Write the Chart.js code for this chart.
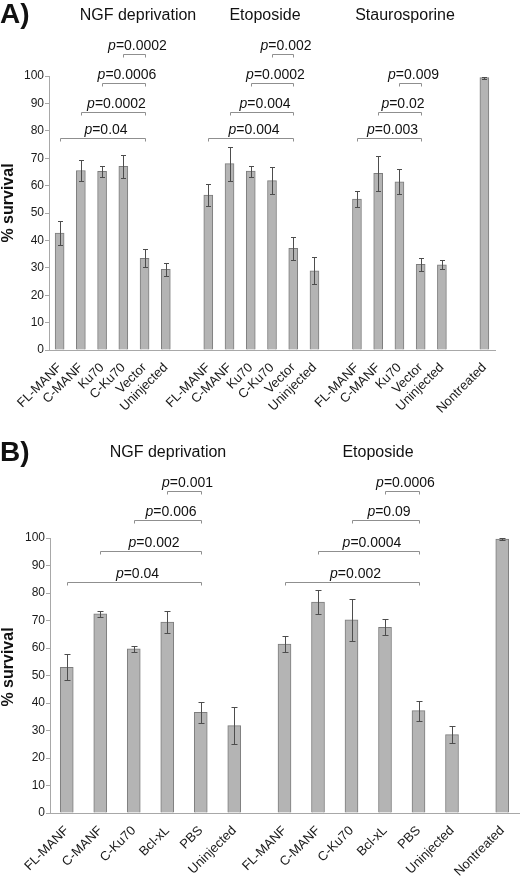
<!DOCTYPE html>
<html>
<head>
<meta charset="utf-8">
<script src="https://cdn.jsdelivr.net/npm/chart.js@4.4.0/dist/chart.umd.min.js"></script>
<style>
  html, body { margin: 0; padding: 0; background: #fff; }
  .panel { position: absolute; left: 0; width: 520px; }
  #panelA { top: 0; height: 430px; }
  #panelB { top: 430px; height: 454px; }
</style>
</head>
<body>
<div class="panel" id="panelA"><canvas id="chartA" width="520" height="430"></canvas></div>
<div class="panel" id="panelB"><canvas id="chartB" width="520" height="454"></canvas></div>
<script>
// ---- panel A data ----
const labelsA = ['FL-MANF', 'C-MANF', 'Ku70', 'C-Ku70', 'Vector', 'Uninjected', '',
  'FL-MANF', 'C-MANF', 'Ku70', 'C-Ku70', 'Vector', 'Uninjected', '',
  'FL-MANF', 'C-MANF', 'Ku70', 'Vector', 'Uninjected', '', 'Nontreated'];
const survivalA = [42.7, 65.5, 65.2, 67.0, 33.5, 29.4, null,
  56.5, 68.0, 65.3, 61.8, 37.1, 28.9, null,
  55.1, 64.5, 61.4, 31.3, 31.1, null, 99.4];
const errorA = [4.3, 4.0, 2.0, 4.2, 3.2, 2.5, null,
  4.0, 6.2, 2.0, 5.0, 4.3, 4.9, null,
  2.9, 6.3, 4.5, 2.4, 1.7, null, 0.4];
const groupsA = ['NGF deprivation', 'Etoposide', 'Staurosporine'];
const pFromA = [0, 1, 2, 3, 7, 8, 9, 10, 14, 15, 16];
const pToA = [4, 4, 4, 4, 11, 11, 11, 11, 17, 17, 17];
const pLevelA = [77.5, 87, 97.5, 108, 77.5, 87, 97.5, 108, 77.5, 87, 97.5];
const pValueA = ['0.04', '0.0002', '0.0006', '0.0002', '0.004', '0.004', '0.0002', '0.002', '0.003', '0.02', '0.009'];

// ---- panel B data ----
const labelsB = ['', 'FL-MANF', '', 'C-MANF', '', 'C-Ku70', '', 'Bcl-xL', '', 'PBS', '', 'Uninjected', '', '',
  'FL-MANF', '', 'C-MANF', '', 'C-Ku70', '', 'Bcl-xL', '', 'PBS', '', 'Uninjected', '', '', 'Nontreated', ''];
const survivalB = [null, 53.0, null, 72.4, null, 59.7, null, 69.4, null, 36.6, null, 31.8, null, null,
  61.4, null, 76.7, null, 70.2, null, 67.5, null, 37.2, null, 28.5, null, null, 99.6, null];
const errorB = [null, 4.8, null, 1.2, null, 1.2, null, 4.0, null, 3.8, null, 6.8, null, null,
  2.8, null, 4.3, null, 7.6, null, 2.9, null, 3.6, null, 3.0, null, null, 0.4, null];
const groupsB = ['NGF deprivation', 'Etoposide'];
const pFromB = [1, 3, 5, 7, 14, 16, 18, 20];
const pToB = [9, 9, 9, 9, 22, 22, 22, 22];
const pLevelB = [84, 95.3, 106.5, 117, 84, 95.3, 106.5, 117];
const pValueB = ['0.04', '0.002', '0.006', '0.001', '0.002', '0.0004', '0.09', '0.0006'];

const FONT = '"Liberation Sans", Arial, sans-serif';
const AXIS_GREY = '#a8a8a8';

const errorBars = {
  id: 'errorBars',
  afterDatasetsDraw(chart, args, opts) {
    const ctx = chart.ctx;
    const y = chart.scales.y;
    const values = chart.data.datasets[0].data;
    const meta = chart.getDatasetMeta(0);
    ctx.save();
    ctx.strokeStyle = '#4d4d4d';
    ctx.lineWidth = 1;
    meta.data.forEach((bar, i) => {
      if (values[i] == null || opts.errors[i] == null) return;
      const x = Math.round(bar.x) + 0.5;
      const top = Math.round(y.getPixelForValue(values[i] + opts.errors[i])) + 0.5;
      const bot = Math.round(y.getPixelForValue(values[i] - opts.errors[i])) + 0.5;
      ctx.beginPath();
      ctx.moveTo(x, top); ctx.lineTo(x, bot);
      ctx.moveTo(x - opts.cap, top); ctx.lineTo(x + opts.cap, top);
      ctx.moveTo(x - opts.cap, bot); ctx.lineTo(x + opts.cap, bot);
      ctx.stroke();
    });
    ctx.restore();
  }
};

const decorations = {
  id: 'decorations',
  afterDraw(chart, args, o) {
    const ctx = chart.ctx;
    const xs = chart.scales.x, ys = chart.scales.y;
    ctx.save();
    ctx.fillStyle = '#111';

    // panel letter
    ctx.font = 'bold 28px ' + FONT;
    ctx.textAlign = 'left';
    ctx.textBaseline = 'middle';
    ctx.fillText(o.letter, 0, o.letterY);

    // group titles
    ctx.font = '16px ' + FONT;
    ctx.textAlign = 'center';
    o.groups.forEach((g, i) => ctx.fillText(g, o.groupX[i], o.groupY));

    // y axis title
    ctx.save();
    ctx.translate(9, o.yTitleY);
    ctx.rotate(-Math.PI / 2);
    ctx.font = 'bold 16px ' + FONT;
    ctx.fillText('% survival', 0, 0);
    ctx.restore();

    // significance brackets
    ctx.strokeStyle = '#8f8f8f';
    ctx.lineWidth = 1;
    ctx.textAlign = 'left';
    ctx.textBaseline = 'alphabetic';
    o.from.forEach((f, i) => {
      const x1 = Math.round(xs.getPixelForValue(f)) + 0.5;
      const x2 = Math.round(xs.getPixelForValue(o.to[i])) + 0.5;
      const yy = Math.round(ys.getPixelForValue(o.level[i])) + 0.5;
      ctx.beginPath();
      ctx.moveTo(x1, yy + 3); ctx.lineTo(x1, yy); ctx.lineTo(x2, yy); ctx.lineTo(x2, yy + 3);
      ctx.stroke();

      const rest = '=' + o.pvals[i];
      ctx.font = 'italic 14px ' + FONT;
      const wp = ctx.measureText('p').width;
      ctx.font = '14px ' + FONT;
      const wr = ctx.measureText(rest).width;
      const left = (x1 + x2) / 2 + 3 - (wp + wr) / 2;
      ctx.font = 'italic 14px ' + FONT;
      ctx.fillText('p', left, yy - 5);
      ctx.font = '14px ' + FONT;
      ctx.fillText(rest, left + wp, yy - 5);
    });
    ctx.restore();
  }
};

function makePanel(id, labels, values, errors, cfg) {
  return new Chart(document.getElementById(id), {
    type: 'bar',
    data: {
      labels: labels,
      datasets: [{
        data: values,
        backgroundColor: '#b4b4b4',
        borderColor: '#7d7d7d',
        borderWidth: 1,
        barThickness: cfg.barThickness
      }]
    },
    options: {
      responsive: false,
      animation: false,
      layout: { padding: { top: cfg.top, right: cfg.right, left: 0, bottom: 0 } },
      plugins: {
        legend: { display: false },
        tooltip: { enabled: false },
        errorBars: { errors: errors, cap: cfg.cap },
        decorations: cfg.deco
      },
      scales: {
        x: {
          offset: cfg.offset,
          grid: { display: false },
          border: { color: AXIS_GREY },
          ticks: {
            autoSkip: false, maxRotation: 45, minRotation: 45, padding: 2,
            color: '#1a1a1a', font: { family: FONT, size: 13 }
          },
          afterFit: s => { s.height = cfg.xHeight; s.paddingLeft = 0; s.paddingRight = 0; }
        },
        y: {
          min: 0, max: 100,
          grid: { drawOnChartArea: false, tickLength: 4, color: AXIS_GREY },
          border: { color: AXIS_GREY },
          ticks: { stepSize: 10, padding: 1, color: '#1a1a1a', font: { family: FONT, size: 12 } },
          afterFit: s => { s.width = cfg.yWidth; s.paddingTop = 0; s.paddingBottom = 0; }
        }
      }
    },
    plugins: [errorBars, decorations]
  });
}

makePanel('chartA', labelsA, survivalA, errorA, {
  barThickness: 9, cap: 2.5, top: 76, right: 25, offset: true, xHeight: 80, yWidth: 49,
  deco: {
    letter: 'A)', letterY: 15, groups: groupsA, groupX: [138, 265, 405], groupY: 16, yTitleY: 203,
    from: pFromA, to: pToA, level: pLevelA, pvals: pValueA
  }
});

makePanel('chartB', labelsB, survivalB, errorB, {
  barThickness: 13, cap: 3, top: 108, right: 1, offset: false, xHeight: 71, yWidth: 50,
  deco: {
    letter: 'B)', letterY: 23, groups: groupsB, groupX: [168, 378], groupY: 23, yTitleY: 237,
    from: pFromB, to: pToB, level: pLevelB, pvals: pValueB
  }
});
</script>
</body>
</html>
